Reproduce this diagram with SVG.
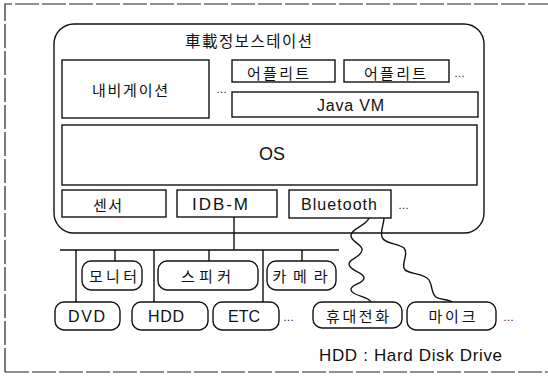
<svg xmlns="http://www.w3.org/2000/svg" width="548" height="376" viewBox="0 0 548 376">
<style>
.frame{fill:none;stroke:#222;stroke-width:1.2;stroke-dasharray:24 3}
.box{fill:#fff;stroke:#111;stroke-width:1.4}
.ln{fill:none;stroke:#111;stroke-width:1.4}
.k{font-family:"Noto Sans CJK KR","Noto Sans",sans-serif;font-size:15px;fill:#111;text-anchor:middle}
.l{font-family:"Liberation Sans","Noto Sans",sans-serif;font-size:16px;fill:#111;text-anchor:middle}
.d{font-family:"Liberation Sans",sans-serif;font-size:11px;fill:#111}
</style>
<rect width="548" height="376" fill="#fff"/>
<g id="frame">
<path class="frame" d="M5,372 L5,4 L548,4"/>
<path class="frame" d="M5,372 L548,372"/>
</g>
<g id="station">
<rect class="box" x="54" y="24" width="430" height="209" rx="20"/>
<text class="k" x="248.5" y="47" textLength="127" style="font-size:15.5px">車載정보스테이션</text>
</g>
<g id="navi"><rect class="box" x="62" y="60" width="147" height="58"/><text class="k" x="130" y="96" textLength="76">내비게이션</text></g>
<text class="d" x="216" y="93">…</text>
<g id="app1"><rect class="box" x="232" y="60" width="103" height="22"/><text class="k" x="278" y="79" textLength="62">어플리트</text></g>
<g id="app2"><rect class="box" x="344" y="60" width="105" height="22"/><text class="k" x="395" y="79" textLength="62">어플리트</text></g>
<text class="d" x="454" y="77">…</text>
<g id="jvm"><rect class="box" x="232" y="92" width="246" height="25"/><text class="l" x="350.5" y="111" textLength="67">Java VM</text></g>
<g id="os"><rect class="box" x="62" y="125" width="415" height="60"/><text class="l" x="272" y="160" style="font-size:18px">OS</text></g>
<g id="sensor"><rect class="box" x="62" y="190" width="104" height="27"/><text class="k" x="107.5" y="211" textLength="29">센서</text></g>
<g id="idbm"><rect class="box" x="177" y="190" width="100" height="27"/><text class="l" x="220" y="210" textLength="56" style="font-size:17px">IDB-M</text></g>
<g id="bt"><rect class="box" x="289" y="190" width="102" height="28"/><text class="l" x="339" y="210" textLength="76">Bluetooth</text></g>
<text class="d" x="398" y="209">…</text>
<g id="connectors">
<path class="ln" d="M234,217 V250 M60,250 H339 M76,250 V302 M115,250 V261 M154,250 V302 M209,250 V261 M263,250 V302 M302,250 V261"/>
<path class="ln" d="M369,218 C366,226 352,228 351,235 C350,242 363,244 362,250 C361,258 349,258 349,264 C349,271 364,272 364,278 C364,284 350,284 351,290 C352,296 368,296 371,302"/>
<path class="ln" d="M384,218 C384,225 380,230 382,237 C384,244 398,243 404,248 C409,253 402,262 404,268 C406,275 424,272 429,280 C433,287 431,293 436,297 C440,300 448,299 452,302"/>
</g>
<g id="monitor"><rect class="box" x="82" y="261" width="60" height="29" rx="9"/><text class="k" x="113" y="282" textLength="48">모니터</text></g>
<g id="speaker"><rect class="box" x="158" y="261" width="100" height="29" rx="9"/><text class="k" x="206" y="282" textLength="50">스피커</text></g>
<g id="camera"><rect class="box" x="267" y="261" width="69" height="29" rx="9"/><text class="k" x="300" y="282" textLength="55">카메라</text></g>
<g id="dvd"><rect class="box" x="55" y="302" width="65" height="28" rx="9"/><text class="l" x="86.5" y="322" textLength="37">DVD</text></g>
<g id="hdd"><rect class="box" x="132" y="302" width="76" height="28" rx="9"/><text class="l" x="166" y="322" textLength="36">HDD</text></g>
<g id="etc"><rect class="box" x="213" y="302" width="66" height="28" rx="9"/><text class="l" x="244" y="322">ETC</text></g>
<text class="d" x="283" y="321">…</text>
<g id="phone"><rect class="box" x="313" y="302" width="89" height="26" rx="9"/><text class="k" x="357.5" y="322" textLength="63">휴대전화</text></g>
<g id="mic"><rect class="box" x="407" y="302" width="89" height="28" rx="9"/><text class="k" x="452" y="322" textLength="47">마이크</text></g>
<text class="d" x="503" y="321">…</text>
<text class="l" x="410.5" y="361" textLength="183" style="font-size:17px">HDD : Hard Disk Drive</text>
</svg>
